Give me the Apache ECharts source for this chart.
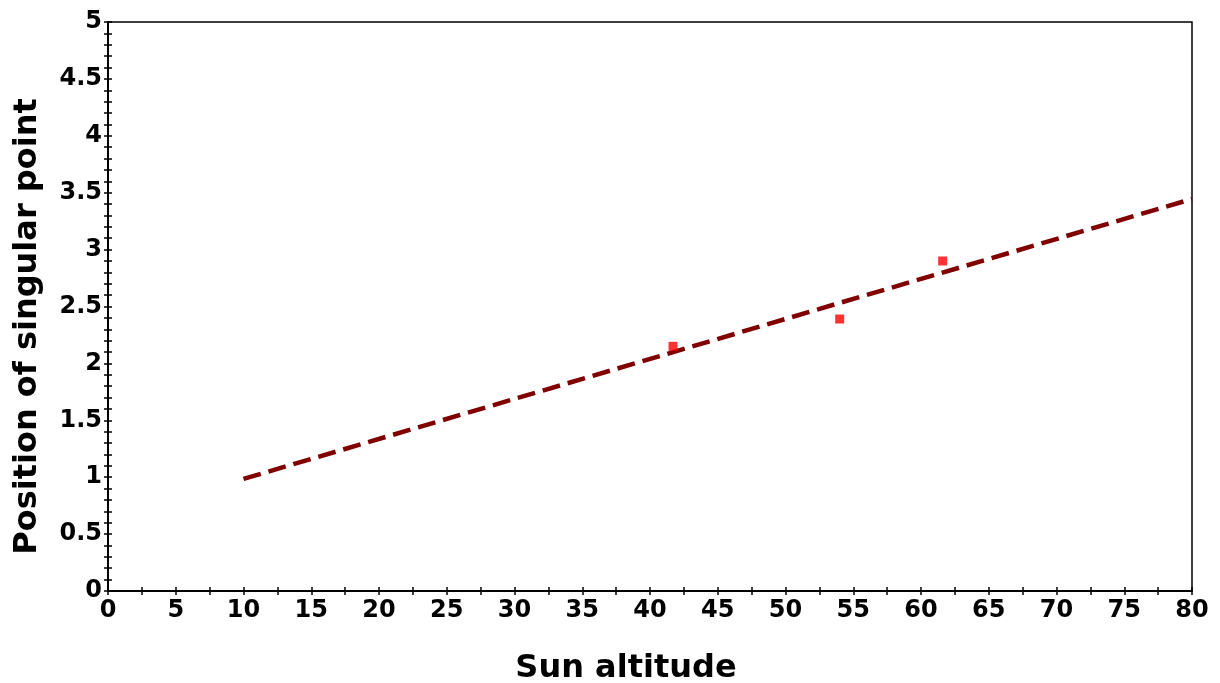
<!DOCTYPE html>
<html>
<head>
<meta charset="utf-8">
<script src="https://cdn.jsdelivr.net/npm/echarts@6/dist/echarts.min.js"></script>
<style>
html,body{margin:0;padding:0;background:#fff;}
#chart{width:1220px;height:683px;}
</style>
</head>
<body>
<div id="chart"></div>
<script>
// Measured points (Sun altitude, position of singular point)
const pointX = [41.7, 54.0, 61.6];
const pointY = [2.15, 2.39, 2.90];
// Fitted line endpoints
const fitX = [10, 80];
const fitY = [0.985, 3.445];
const xTitle = 'Sun altitude';
const yTitle = 'Position of singular point';

const chart = echarts.init(document.getElementById('chart'));
const labelFont = {fontFamily: 'DejaVu Sans, Verdana, sans-serif', fontWeight: 'bold', fontSize: 24, color: '#000'};
const tickStyle = {color: '#000', width: 1.5};
chart.setOption({
  animation: false,
  backgroundColor: '#fff',
  grid: {left: 108, right: 28, top: 22, bottom: 92, containLabel: false, outerBoundsMode: 'none',
         show: true, borderColor: '#000', borderWidth: 1.5, backgroundColor: 'transparent'},
  xAxis: [{
    type: 'value', min: 0, max: 80, interval: 5,
    name: xTitle, nameLocation: 'middle', nameGap: 62,
    nameTextStyle: {fontFamily: 'DejaVu Sans, Verdana, sans-serif', fontWeight: 'bold', fontSize: 32, color: '#000', padding: [0, 48, 0, 0]},
    axisLine: {show: true, lineStyle: {color: '#000', width: 2}},
    axisTick: {show: true, inside: false, length: 4, lineStyle: tickStyle},
    minorTick: {show: true, splitNumber: 2, length: 4, lineStyle: tickStyle},
    axisLabel: Object.assign({margin: 8}, labelFont),
    splitLine: {show: false}
  }, {
    type: 'value', min: 0, max: 80, interval: 5, position: 'bottom',
    axisLine: {show: false},
    axisTick: {show: true, inside: true, length: 4, lineStyle: tickStyle},
    minorTick: {show: true, splitNumber: 2, length: 4, lineStyle: tickStyle},
    axisLabel: {show: false}, splitLine: {show: false}
  }],
  yAxis: [{
    type: 'value', min: 0, max: 5, interval: 0.5,
    name: yTitle, nameLocation: 'middle', nameGap: 64, nameRotate: 90,
    nameTextStyle: {fontFamily: 'DejaVu Sans, Verdana, sans-serif', fontWeight: 'bold', fontSize: 32, color: '#000', padding: [0, 40, 0, 0]},
    axisLine: {show: true, lineStyle: {color: '#000', width: 2}},
    axisTick: {show: true, inside: false, length: 4, lineStyle: tickStyle},
    minorTick: {show: true, splitNumber: 5, length: 4, lineStyle: tickStyle},
    axisLabel: Object.assign({margin: 6}, labelFont),
    splitLine: {show: false}
  }, {
    type: 'value', min: 0, max: 5, interval: 0.5, position: 'left',
    axisLine: {show: false},
    axisTick: {show: true, inside: true, length: 4, lineStyle: tickStyle},
    minorTick: {show: true, splitNumber: 5, length: 4, lineStyle: tickStyle},
    axisLabel: {show: false}, splitLine: {show: false}
  }],
  series: [{
    type: 'line',
    data: fitX.map((x, i) => [x, fitY[i]]),
    showSymbol: false, symbol: 'none',
    lineStyle: {color: '#800000', width: 4.5, type: [18, 8], cap: 'butt'},
    z: 2
  }, {
    type: 'scatter',
    data: pointX.map((x, i) => [x, pointY[i]]),
    symbol: 'rect', symbolSize: 9,
    itemStyle: {color: '#ff0000'},
    z: 3
  }]
});
</script>
</body>
</html>
